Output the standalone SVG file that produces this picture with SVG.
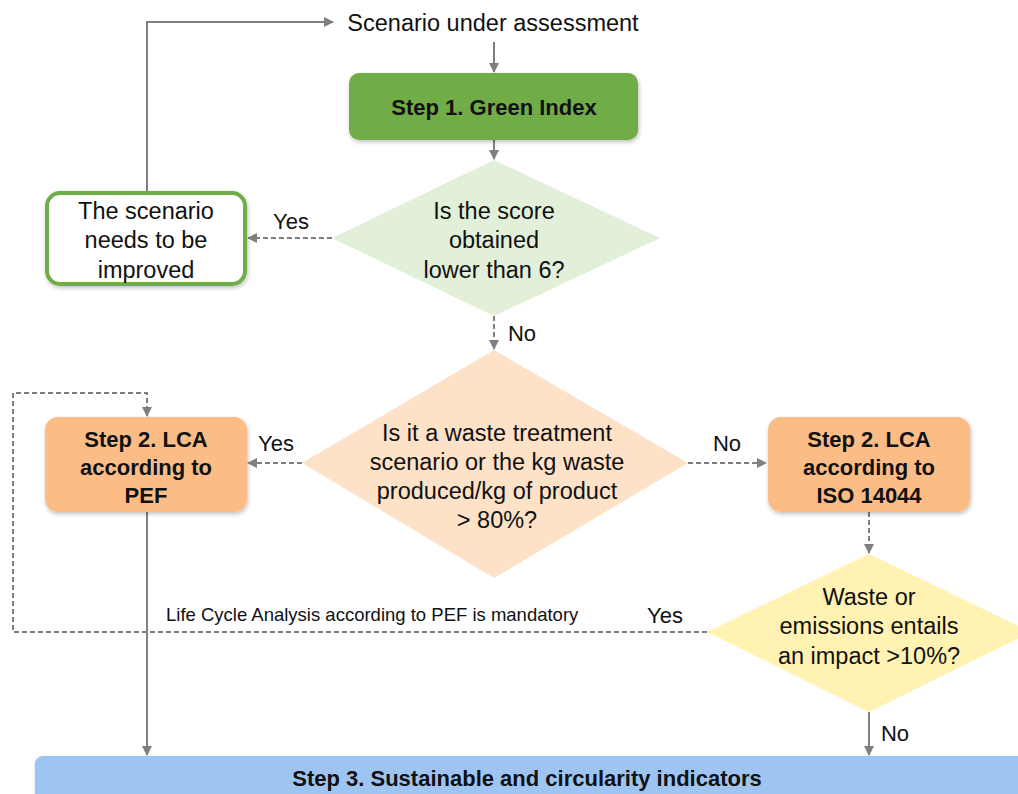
<svg xmlns="http://www.w3.org/2000/svg" width="1018" height="794" viewBox="0 0 1018 794">
<defs>
<marker id="ah" viewBox="0 0 10 10" refX="9" refY="5" markerWidth="5" markerHeight="5" orient="auto-start-reverse"><path d="M0,0 L10,5 L0,10 z" fill="#7f7f7f"/></marker>
<filter id="sh" x="-10%" y="-10%" width="120%" height="130%"><feDropShadow dx="1" dy="2" stdDeviation="2" flood-color="#000" flood-opacity="0.25"/></filter>
</defs>
<style>
text{font-family:"Liberation Sans",Arial,sans-serif;fill:#111;text-anchor:middle}
.t{font-size:23.5px}
.l{font-size:22px}
.b{font-size:22px;font-weight:bold}
.s{font-size:18.5px;text-anchor:start}
.solid{stroke:#7f7f7f;stroke-width:2;fill:none}
.dash{stroke:#7f7f7f;stroke-width:2;fill:none;stroke-dasharray:5 3}
</style>
<rect width="1018" height="794" fill="#fff"/>
<g id="connectors">
<path class="solid" d="M147,192 V22 H333" marker-end="url(#ah)"/>
<path class="solid" d="M494,42 V72" marker-end="url(#ah)"/>
<path class="solid" d="M494,140 V159" marker-end="url(#ah)"/>
<path class="dash" d="M332,238 H248" marker-end="url(#ah)"/>
<path class="dash" d="M494,316 V349" marker-end="url(#ah)"/>
<path class="dash" d="M302,463 H248" marker-end="url(#ah)"/>
<path class="dash" d="M688,463 H766" marker-end="url(#ah)"/>
<path class="dash" d="M869,512 V553" marker-end="url(#ah)"/>
<path class="dash" d="M707,632 H13 V393 H147 V416" marker-end="url(#ah)"/>
<path class="solid" d="M147,512 V755" marker-end="url(#ah)"/>
<path class="solid" d="M869,712 V755" marker-end="url(#ah)"/>
<text class="l" x="291" y="229">Yes</text>
<text class="l" x="522" y="341">No</text>
<text class="l" x="276" y="451">Yes</text>
<text class="l" x="727" y="451">No</text>
<text class="l" x="665" y="623">Yes</text>
<text class="s" x="166" y="621">Life Cycle Analysis according to PEF is mandatory</text>
<text class="l" x="895" y="741">No</text>
</g>
<g id="start"><text x="493" y="31" style="font-size:23.5px">Scenario under assessment</text></g>
<g id="step1">
<rect x="349" y="73" width="289" height="67" rx="10" fill="#70ad47" filter="url(#sh)"/>
<text class="b" x="494" y="115">Step 1. Green Index</text>
</g>
<g id="dec1">
<polygon points="494,160 660,238 494,316 332,238" fill="#e2efd9"/>
<text class="t" x="494" y="219">Is the score</text>
<text class="t" x="494" y="248">obtained</text>
<text class="t" x="494" y="278">lower than 6?</text>
</g>
<g id="improve">
<rect x="47" y="193" width="198" height="91" rx="13" fill="#fff" stroke="#70ad47" stroke-width="4" filter="url(#sh)"/>
<text class="t" x="146" y="219">The scenario</text>
<text class="t" x="146" y="248">needs to be</text>
<text class="t" x="146" y="278">improved</text>
</g>
<g id="dec2">
<polygon points="494,350 688,463 494,578 302,463" fill="#fde2c8"/>
<text class="t" x="497" y="441">Is it a waste treatment</text>
<text class="t" x="497" y="470">scenario or the kg waste</text>
<text class="t" x="497" y="499">produced/kg of product</text>
<text class="t" x="497" y="528">&gt; 80%?</text>
</g>
<g id="pef">
<rect x="45" y="417" width="202" height="95" rx="13" fill="#fbbd85" filter="url(#sh)"/>
<text class="b" x="146" y="447">Step 2. LCA</text>
<text class="b" x="146" y="475">according to</text>
<text class="b" x="146" y="503">PEF</text>
</g>
<g id="iso">
<rect x="768" y="417" width="202" height="95" rx="13" fill="#fbbd85" filter="url(#sh)"/>
<text class="b" x="869" y="447">Step 2. LCA</text>
<text class="b" x="869" y="475">according to</text>
<text class="b" x="869" y="503">ISO 14044</text>
</g>
<g id="dec3">
<polygon points="869,554 1031,632 869,712 707,632" fill="#fff2b3"/>
<text class="t" x="869" y="605">Waste or</text>
<text class="t" x="869" y="634">emissions entails</text>
<text class="t" x="869" y="664">an impact &gt;10%?</text>
</g>
<g id="step3">
<rect x="35" y="756" width="1000" height="60" rx="8" fill="#9ec5f2" filter="url(#sh)"/>
<text class="b" x="527" y="786">Step 3. Sustainable and circularity indicators</text>
</g>
</svg>
